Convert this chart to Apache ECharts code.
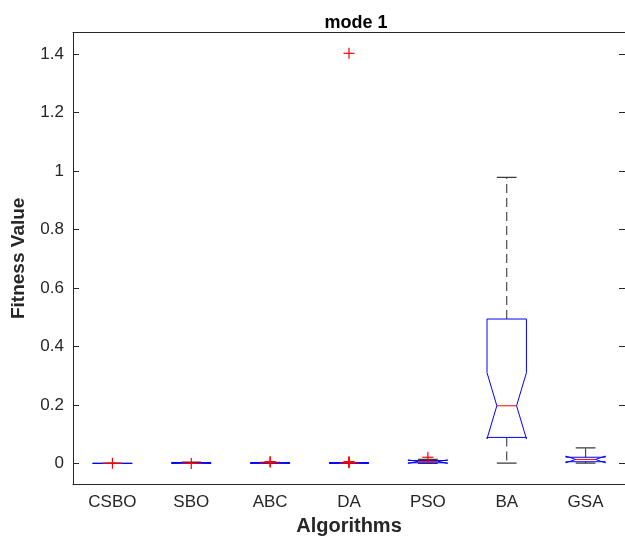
<!DOCTYPE html>
<html>
<head>
<meta charset="utf-8">
<script src="https://cdn.jsdelivr.net/npm/echarts@6/dist/echarts.min.js"></script>
<style>
  html, body { margin: 0; padding: 0; background: #fff; }
  #chart { width: 625px; height: 541px; }
</style>
</head>
<body>
<div id="chart"></div>
<script>
// Algorithms compared
const categories = ['CSBO', 'SBO', 'ABC', 'DA', 'PSO', 'BA', 'GSA'];

// Box statistics per algorithm
const whiskerLow  = [0,      0.0005, 0.0003, 0.0002, 0,     0.001,  0.0008];
const quartile1   = [0,      0.0008, 0.0008, 0.0006, 0.002, 0.0888, 0.0057];
const medians     = [0,      0.0015, 0.0014, 0.0012, 0.006, 0.197,  0.0135];
const quartile3   = [0,      0.0028, 0.0026, 0.0022, 0.010, 0.4936, 0.021];
const whiskerHigh = [0,      0.0040, 0.0035, 0.0030, 0.014, 0.978,  0.053];
const notchLow    = [0,     -0.0005,-0.0004,-0.0003, 0.000, 0.084,  0.002];
const notchHigh   = [0,      0.0035, 0.0032, 0.0027, 0.012, 0.310,  0.025];

// Outlying runs (category index, value)
const outlierCat   = [0,      1,     2,     2,     3,     3,     3,     3,     4];
const outlierValue = [0.0004, 0.000, 0.005, 0.006, 0.002, 0.004, 0.006, 1.402, 0.021];

// Y tick values
const yTicks = [0, 0.2, 0.4, 0.6, 0.8, 1, 1.2, 1.4];

const FONT = "'Liberation Sans', Arial, Helvetica, sans-serif";
const AXIS_COLOR = '#262626';

const boxData = categories.map((c, i) => [
  i, whiskerLow[i], quartile1[i], medians[i], quartile3[i], whiskerHigh[i], notchLow[i], notchHigh[i]
]);
const outlierData = outlierCat.map((c, i) => [c, outlierValue[i]]);

function renderBox(params, api) {
  const idx = api.value(0);
  const band = api.size([1, 0])[0];
  const half = band * 0.25;
  const waist = band * 0.125;
  const cx = api.coord([idx, 0])[0];
  const y = k => api.coord([idx, api.value(k)])[1];
  const lo = y(1), q1 = y(2), med = y(3), q3 = y(4), hi = y(5), nlo = y(6), nhi = y(7);
  const L = cx - half, R = cx + half;
  const children = [];
  const whiskerStyle = { stroke: '#4a4a4a', lineWidth: 1.2, lineDash: [9, 5] };
  const capStyle = { stroke: '#3a3a3a', lineWidth: 1.2 };
  children.push({ type: 'line', shape: { x1: cx, y1: q3, x2: cx, y2: hi }, style: whiskerStyle });
  children.push({ type: 'line', shape: { x1: cx, y1: q1, x2: cx, y2: lo }, style: whiskerStyle });
  children.push({ type: 'line', shape: { x1: cx - waist, y1: hi, x2: cx + waist, y2: hi }, style: capStyle });
  children.push({ type: 'line', shape: { x1: cx - waist, y1: lo, x2: cx + waist, y2: lo }, style: capStyle });
  children.push({
    type: 'polygon',
    shape: {
      points: [
        [L, q1], [L, nlo], [cx - waist, med], [L, nhi], [L, q3],
        [R, q3], [R, nhi], [cx + waist, med], [R, nlo], [R, q1]
      ]
    },
    style: { fill: 'none', stroke: '#0000ff', lineWidth: 1 }
  });
  children.push({ type: 'line', shape: { x1: cx - waist, y1: med, x2: cx + waist, y2: med }, style: { stroke: '#ff0000', lineWidth: 1 } });
  return { type: 'group', children };
}

function renderPlus(params, api) {
  const p = api.coord([api.value(0), api.value(1)]);
  const s = 5.5;
  const st = { stroke: '#ff0000', lineWidth: 1.2 };
  return {
    type: 'group',
    children: [
      { type: 'line', shape: { x1: p[0] - s, y1: p[1], x2: p[0] + s, y2: p[1] }, style: st },
      { type: 'line', shape: { x1: p[0], y1: p[1] - s, x2: p[0], y2: p[1] + s }, style: st }
    ]
  };
}

const chart = echarts.init(document.getElementById('chart'), null, { renderer: 'canvas' });
chart.setOption({
  animation: false,
  backgroundColor: '#ffffff',
  title: {
    text: 'mode 1',
    left: 351,
    top: 9,
    textAlign: 'center',
    textStyle: { fontFamily: FONT, fontWeight: 'bold', fontSize: 18, color: '#000' }
  },
  grid: { left: 73, right: -4, top: 32.5, bottom: 51, containLabel: false },
  xAxis: [
    {
      type: 'category',
      data: categories,
      position: 'bottom',
      boundaryGap: true,
      axisLine: { onZero: false, lineStyle: { color: AXIS_COLOR, width: 1 } },
      axisTick: { inside: true, length: 5, alignWithLabel: true, lineStyle: { color: AXIS_COLOR } },
      axisLabel: { margin: 10, fontFamily: FONT, fontSize: 17, color: AXIS_COLOR },
      splitLine: { show: false },
      name: 'Algorithms',
      nameLocation: 'middle',
      nameGap: 29,
      nameTextStyle: { fontFamily: FONT, fontWeight: 'bold', fontSize: 20, color: AXIS_COLOR }
    },
    {
      type: 'category',
      data: categories,
      position: 'top',
      boundaryGap: true,
      axisLine: { onZero: false, lineStyle: { color: AXIS_COLOR, width: 1 } },
      axisTick: { inside: true, length: 5, alignWithLabel: true, lineStyle: { color: AXIS_COLOR } },
      axisLabel: { show: false },
      splitLine: { show: false }
    }
  ],
  yAxis: [
    {
      type: 'value',
      min: -0.0708,
      max: 1.4732,
      position: 'left',
      axisLine: { show: true, onZero: false, lineStyle: { color: AXIS_COLOR, width: 1 } },
      axisTick: { show: true, inside: true, length: 6, customValues: yTicks, lineStyle: { color: AXIS_COLOR } },
      axisLabel: {
        margin: 9, fontFamily: FONT, fontSize: 17, color: AXIS_COLOR,
        customValues: yTicks,
        formatter: v => String(Math.round(v * 10) / 10)
      },
      splitLine: { show: false },
      name: 'Fitness Value',
      nameLocation: 'middle',
      nameGap: 45,
      nameTextStyle: { fontFamily: FONT, fontWeight: 'bold', fontSize: 19, color: AXIS_COLOR }
    },
    {
      type: 'value',
      min: -0.0708,
      max: 1.4732,
      position: 'right',
      axisLine: { show: true, onZero: false, lineStyle: { color: AXIS_COLOR, width: 1 } },
      axisTick: { show: true, inside: true, length: 6, customValues: yTicks, lineStyle: { color: AXIS_COLOR } },
      axisLabel: { show: false },
      splitLine: { show: false }
    }
  ],
  series: [
    {
      type: 'custom',
      name: 'boxes',
      xAxisIndex: 0,
      yAxisIndex: 0,
      renderItem: renderBox,
      encode: { x: 0, y: [1, 2, 3, 4, 5] },
      data: boxData,
      clip: true
    },
    {
      type: 'custom',
      name: 'outliers',
      xAxisIndex: 0,
      yAxisIndex: 0,
      renderItem: renderPlus,
      encode: { x: 0, y: 1 },
      data: outlierData,
      clip: false
    }
  ]
});
</script>
</body>
</html>
